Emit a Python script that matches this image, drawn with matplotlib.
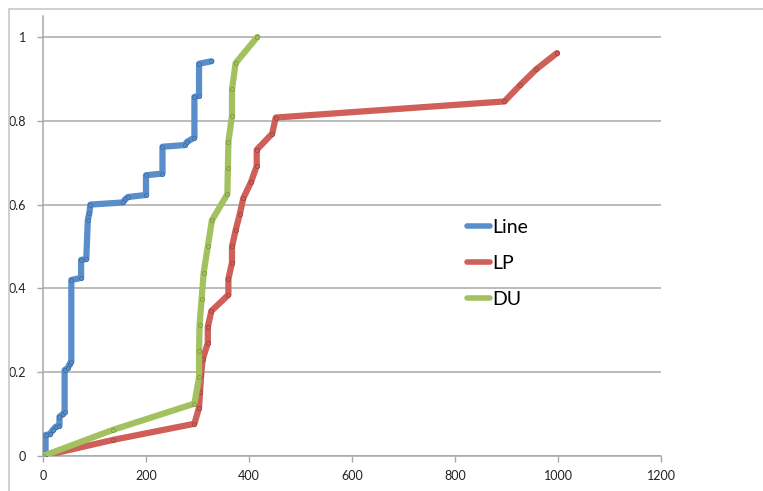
import matplotlib.pyplot as plt
from matplotlib.patches import Rectangle

plt.rcParams['font.family'] = ['Lato', 'DejaVu Sans']

# Line: step-like curve, corner points
line_x = [0, 5, 5, 13, 19, 25, 32, 32, 39, 42, 42, 48, 52, 55, 55, 74, 74, 84, 87, 90, 92,
          155, 160, 165, 200, 200, 232, 232, 275, 280, 294, 294, 303, 303, 327]
line_y = [0, 0.005, 0.05, 0.052, 0.062, 0.07, 0.072, 0.094, 0.10, 0.105, 0.205, 0.21, 0.22,
          0.225, 0.42, 0.425, 0.468, 0.47, 0.563, 0.58, 0.60, 0.605, 0.613, 0.618, 0.623,
          0.670, 0.674, 0.738, 0.742, 0.75, 0.76, 0.857, 0.86, 0.936, 0.942]

# LP: 26 points, y = k/26
lp_x = [0, 136, 294, 303, 305, 307, 310, 320, 320, 327, 360, 360, 367, 367, 374, 382, 389,
        404, 415, 415, 445, 452, 896, 926, 958, 998]
lp_y = [k / 26 for k in range(len(lp_x))]

# DU: 17 points, y = k/16
du_x = [0, 136, 294, 303, 303, 304, 308, 312, 320, 328, 358, 359, 360, 367, 367, 374, 416]
du_y = [k / 16 for k in range(len(du_x))]

x_ticks = [0, 200, 400, 600, 800, 1000, 1200]
y_ticks = [0, 0.2, 0.4, 0.6, 0.8, 1]
y_labels = ['0', '0.2', '0.4', '0.6', '0.8', '1']

fig = plt.figure(figsize=(7.63, 4.91), dpi=100)
fig.patches.append(Rectangle((9 / 763, -0.1), 1.2, 1 - 9 / 491 + 0.1, transform=fig.transFigure,
                             fill=False, edgecolor='#c8c8c8', linewidth=1.2))
ax = fig.add_axes([43 / 763, 1 - 456 / 491, 618 / 763, 440 / 491])

ax.plot(line_x, line_y, color='#5a8ecb', lw=4.5, marker='o', ms=3, mfc='#5a8ecb',
        mec='#3f6fa8', mew=0.6, label='Line', solid_capstyle='round', zorder=3)
ax.plot(lp_x, lp_y, color='#cf5f58', lw=4.5, marker='o', ms=3, mfc='#cf5f58',
        mec='#a04440', mew=0.6, label='LP', solid_capstyle='round', zorder=3)
ax.plot(du_x, du_y, color='#a3c25f', lw=4.5, marker='o', ms=3, mfc='#a3c25f',
        mec='#7a9a40', mew=0.6, label='DU', solid_capstyle='round', zorder=4)

ax.set_xlim(0, 1200)
ax.set_ylim(0, 1.05)
ax.set_xticks(x_ticks)
ax.set_yticks(y_ticks)
ax.set_yticklabels(y_labels)
ax.grid(axis='y', color='#a8a8a8', lw=1.1)
ax.set_axisbelow(True)
for s in ['top', 'right']:
    ax.spines[s].set_visible(False)
for s in ['left', 'bottom']:
    ax.spines[s].set_color('#a8a8a8')
    ax.spines[s].set_linewidth(1.1)
ax.tick_params(axis='both', colors='#a8a8a8', length=4, width=1, labelsize=9,
               labelcolor='#222222')
ax.tick_params(axis='y', pad=8)
ax.tick_params(axis='x', pad=6)

leg = ax.legend(loc='center left', bbox_to_anchor=(0.686, 0.438), frameon=False, fontsize=14,
                handlelength=1.2, handletextpad=0.1, labelspacing=0.97,
                borderpad=0, borderaxespad=0)
for h in leg.get_lines():
    h.set_marker('')
    h.set_linewidth(4)

fig.savefig('out.png', dpi=100)
